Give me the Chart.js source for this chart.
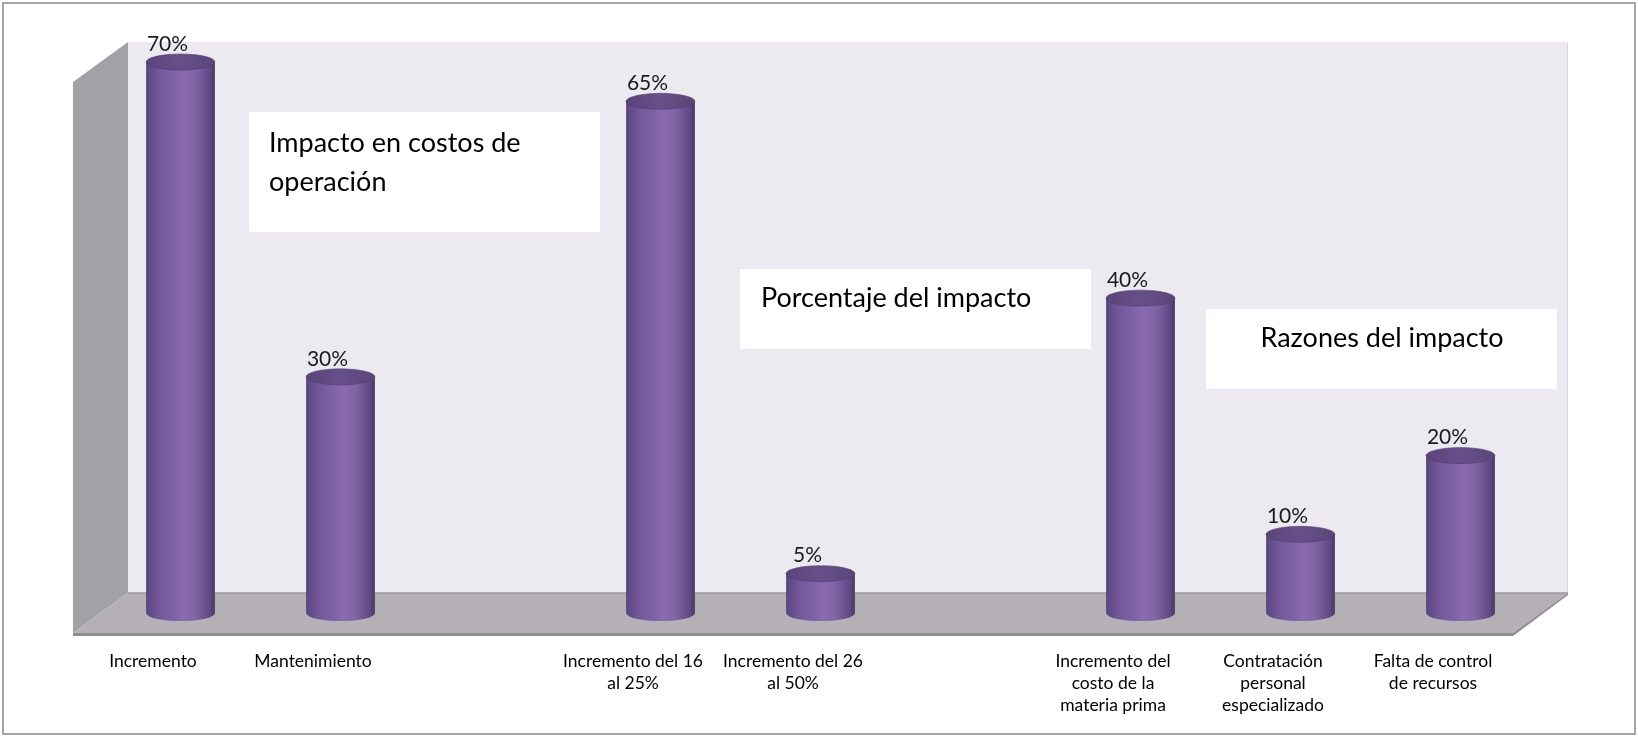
<!DOCTYPE html>
<html>
<head>
<meta charset="utf-8">
<script src="https://cdn.jsdelivr.net/npm/chart.js@4.4.1/dist/chart.umd.min.js"></script>
<style>
  html, body { margin: 0; padding: 0; background: #fff; }
  #wrap { width: 1638px; height: 736px; }
</style>
</head>
<body>
<div id="wrap"><canvas id="chart" width="1638" height="736"></canvas></div>
<script>
  // Categories (empty slots separate the three groups)
  const categories = [
    "Incremento",
    "Mantenimiento",
    "",
    ["Incremento del 16", "al 25%"],
    ["Incremento del 26", "al 50%"],
    "",
    ["Incremento del", "costo de la", "materia prima"],
    ["Contratación", "personal", "especializado"],
    ["Falta de control", "de recursos"]
  ];

  // Percentages per category
  const values = [70, 30, null, 65, 5, null, 40, 10, 20];

  // Text boxes placed over the plot
  const boxTitles = [
    ["Impacto en costos de", "operación"],
    ["Porcentaje del impacto"],
    ["Razones del impacto"]
  ];

  const FONT = "Lato, 'Liberation Sans', sans-serif";

  // 3D depth of the box (front plane -> back wall)
  const DX = 55;
  const DY = 40;
  const RY = 8;

  const boxes = [
    { x: 249, y: 112, w: 351, h: 120, tx: 269, ty: 143, lh: 39, align: "left" },
    { x: 740, y: 269, w: 351, h: 80, tx: 761, ty: 298, lh: 39, align: "left" },
    { x: 1206, y: 309, w: 351, h: 80, tx: 1382, ty: 338, lh: 39, align: "center" }
  ];

  const scene3d = {
    id: "scene3d",
    beforeDatasetsDraw(chart) {
      const ctx = chart.ctx;
      const a = chart.chartArea;
      ctx.save();

      // back wall
      ctx.fillStyle = "#ece9f1";
      ctx.fillRect(a.left + DX, a.top - DY, a.right - a.left, a.bottom - a.top);
      ctx.strokeStyle = "#dad8de";
      ctx.lineWidth = 1;
      ctx.beginPath();
      ctx.moveTo(a.right + DX - 0.5, a.top - DY);
      ctx.lineTo(a.right + DX - 0.5, a.bottom - DY);
      ctx.stroke();

      // left side wall
      ctx.fillStyle = "#a2a1a5";
      ctx.beginPath();
      ctx.moveTo(a.left, a.top);
      ctx.lineTo(a.left + DX, a.top - DY);
      ctx.lineTo(a.left + DX, a.bottom - DY);
      ctx.lineTo(a.left, a.bottom);
      ctx.closePath();
      ctx.fill();

      // floor
      ctx.fillStyle = "#b4b0b6";
      ctx.beginPath();
      ctx.moveTo(a.left, a.bottom);
      ctx.lineTo(a.left + DX, a.bottom - DY);
      ctx.lineTo(a.right + DX, a.bottom - DY);
      ctx.lineTo(a.right, a.bottom);
      ctx.closePath();
      ctx.fill();
      ctx.strokeStyle = "#9a979c";
      ctx.lineWidth = 1.5;
      ctx.beginPath();
      ctx.moveTo(a.left + DX, a.bottom - DY);
      ctx.lineTo(a.right + DX, a.bottom - DY);
      ctx.stroke();

      // floor front edge
      ctx.fillStyle = "#8f8c92";
      ctx.beginPath();
      ctx.moveTo(a.left, a.bottom);
      ctx.lineTo(a.right, a.bottom);
      ctx.lineTo(a.right + DX, a.bottom - DY);
      ctx.lineTo(a.right + DX, a.bottom - DY + 2);
      ctx.lineTo(a.right, a.bottom + 3);
      ctx.lineTo(a.left, a.bottom + 3);
      ctx.closePath();
      ctx.fill();
      ctx.restore();
    },
    afterDatasetsDraw(chart) {
      const ctx = chart.ctx;
      const meta = chart.getDatasetMeta(0);
      ctx.save();
      meta.data.forEach((bar, i) => {
        if (values[i] === null) return;
        const p = bar.getProps(["x", "y", "base", "width"], true);
        const cx = p.x + DX / 2;
        const rx = p.width / 2;
        const topY = p.y - DY / 2;
        const baseY = p.base - DY / 2;

        // body
        const g = ctx.createLinearGradient(cx - rx, 0, cx + rx, 0);
        g.addColorStop(0, "#5b457d");
        g.addColorStop(0.18, "#71579a");
        g.addColorStop(0.55, "#8a6baf");
        g.addColorStop(0.72, "#8163a6");
        g.addColorStop(0.92, "#604a84");
        g.addColorStop(1, "#4b3866");
        ctx.fillStyle = g;
        ctx.beginPath();
        ctx.moveTo(cx - rx, topY);
        ctx.lineTo(cx - rx, baseY);
        ctx.ellipse(cx, baseY, rx, RY, 0, Math.PI, 0, true);
        ctx.lineTo(cx + rx, topY);
        ctx.closePath();
        ctx.fill();

        // top cap
        const tg = ctx.createLinearGradient(cx - rx, 0, cx + rx, 0);
        tg.addColorStop(0, "#5a4478");
        tg.addColorStop(0.5, "#67508a");
        tg.addColorStop(1, "#5a4578");
        ctx.fillStyle = tg;
        ctx.beginPath();
        ctx.ellipse(cx, topY, rx, RY, 0, 0, Math.PI * 2);
        ctx.fill();
        ctx.strokeStyle = "rgba(80, 60, 110, 0.6)";
        ctx.lineWidth = 1;
        ctx.stroke();

        // value label
        ctx.fillStyle = "#1a1a1a";
        ctx.font = "21px " + FONT;
        ctx.textAlign = "center";
        ctx.textBaseline = "middle";
        ctx.fillText(values[i] + "%", cx - 13, topY - RY - 10);
      });
      ctx.restore();
    },
    afterDraw(chart) {
      const ctx = chart.ctx;
      ctx.save();
      boxes.forEach((b, i) => {
        ctx.fillStyle = "#ffffff";
        ctx.fillRect(b.x, b.y, b.w, b.h);
        ctx.fillStyle = "#000000";
        ctx.font = "27px " + FONT;
        ctx.textAlign = b.align;
        ctx.textBaseline = "middle";
        boxTitles[i].forEach((line, k) => ctx.fillText(line, b.tx, b.ty + k * b.lh));
      });

      // outer frame
      ctx.strokeStyle = "#a6a6a6";
      ctx.lineWidth = 2;
      ctx.strokeRect(3, 3, 1632, 731);
      ctx.restore();
    }
  };

  new Chart(document.getElementById("chart"), {
    type: "bar",
    data: {
      labels: categories,
      datasets: [{
        data: values,
        backgroundColor: "rgba(0,0,0,0)",
        borderWidth: 0,
        categoryPercentage: 1,
        barPercentage: 0.43
      }]
    },
    options: {
      responsive: false,
      animation: false,
      layout: { padding: { left: 73, right: 125, top: 82, bottom: 0 } },
      plugins: { legend: { display: false }, tooltip: { enabled: false } },
      scales: {
        x: {
          grid: { display: false },
          border: { display: false },
          ticks: {
            color: "#000",
            font: { family: FONT, size: 17.5, lineHeight: 1.26 },
            padding: 9,
            maxRotation: 0,
            autoSkip: false
          },
          afterFit(scale) { scale.height = 103; }
        },
        y: {
          display: false,
          min: 0,
          max: 70
        }
      }
    },
    plugins: [scene3d]
  });
</script>
</body>
</html>
